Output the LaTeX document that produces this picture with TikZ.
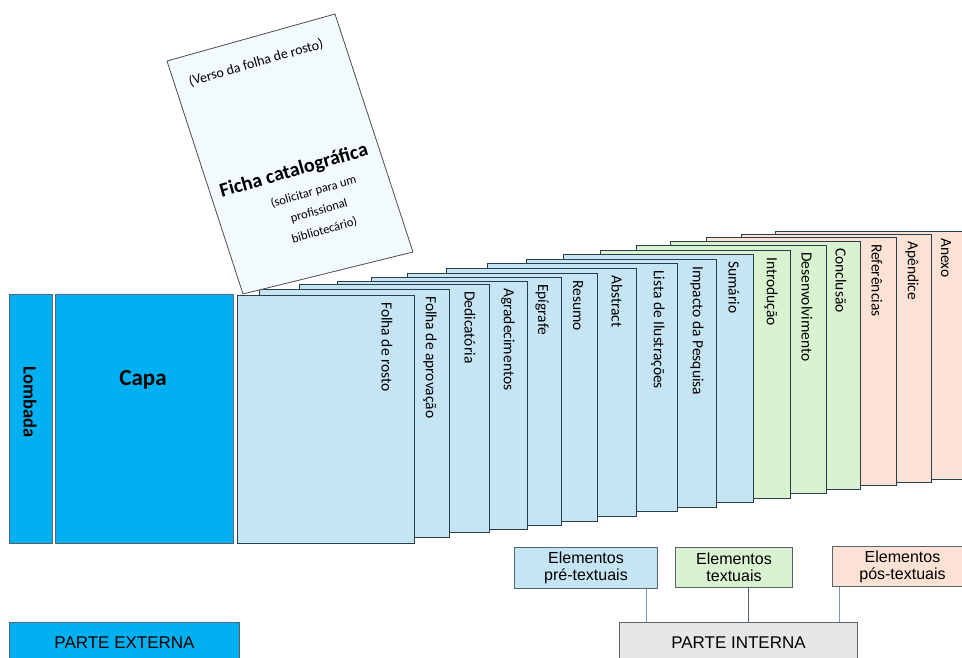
\documentclass[tikz,border=0pt]{standalone}
\usepackage{fontspec}
\setmainfont{Carlito}
\newfontfamily\arialfont{Liberation Sans}
\usepackage{tikz}
\definecolor{pretext}{HTML}{C5E4F4}
\definecolor{textcol}{HTML}{D9F2D0}
\definecolor{postext}{HTML}{FCE2D5}
\definecolor{capablue}{HTML}{00B0F0}
\definecolor{edgecol}{HTML}{2A3D4A}
\definecolor{fichabg}{HTML}{F3FAFE}
\definecolor{linkcol}{HTML}{7C9AAD}
\definecolor{internabg}{HTML}{E7E7E7}
\tikzstyle{folha}=[draw=edgecol, line width=1pt, minimum width=190pt, minimum height=248pt, anchor=north east, inner sep=0pt]
\tikzstyle{rotulo}=[rotate=-90, anchor=west, inner sep=0pt, text=black, font=\fontsize{15.5}{18}\selectfont]
\tikzstyle{externa}=[draw=edgecol!80, line width=1pt, fill=capablue, anchor=north west, inner sep=0pt]
\tikzstyle{caixa}=[draw=edgecol!80, line width=1pt, anchor=north west, align=center, inner sep=0pt, font=\arialfont\fontsize{16}{17}\selectfont]
\tikzstyle{ligacao}=[draw=linkcol, line width=1pt]

\begin{document}
\begin{tikzpicture}[x=1pt,y=-1pt]
        \useasboundingbox (0,0) rectangle (962,658);
        \clip (0,0) rectangle (962,658);
        % parte externa
        \node[externa, minimum width=43pt, minimum height=249pt] (lombada) at (9,294) {};
        \node[externa, minimum width=178pt, minimum height=249pt] (capa) at (55,294) {};
        \node[rotate=-90, font=\bfseries\fontsize{18.5}{20}\selectfont] (lombadatxt) at (30,402) {Lombada};
        \node[font=\bfseries\fontsize{23}{26}\selectfont] (capatxt) at (143,380) {Capa};
        % folhas da parte interna, de tras para a frente
        \foreach \nome/\dir/\topo/\cor [count=\i] in {Anexo/966/231/postext, Apêndice/932/234/postext,
            Referências/897/237/postext, Conclusão/861/241/textcol, Desenvolvimento/827/245/textcol,
            Introdução/791/250/textcol, Sumário/754/254/pretext, Impacto da Pesquisa/717/259/pretext,
            Lista de Ilustrações/678/263/pretext, Abstract/637/268/pretext, Resumo/598/273/pretext,
            Epígrafe/562/277/pretext, Agradecimentos/528/281/pretext, Dedicatória/490/284/pretext,
            Folha de aprovação/450/289/pretext} {
            \node[folha, fill=\cor] (pg\i) at (\dir,\topo) {};
            \node[rotulo] (rot\i) at ([xshift=-20pt, yshift=-7pt]pg\i.north east) {\nome};
        }
        \node[folha, fill=pretext, minimum width=177pt] (rosto) at (415,295) {};
        \node[rotulo] (rostotxt) at ([xshift=-28pt, yshift=-7pt]rosto.north east) {Folha de rosto};
        % verso da folha de rosto
        \coordinate (f1) at (167,61);
        \coordinate (f2) at (335,14);
        \coordinate (f3) at (413,252);
        \coordinate (f4) at (243,294);
        \draw[fill=fichabg, draw=black!70, line width=0.8pt] (f1) -- (f2) -- (f3) -- (f4) -- cycle;
        \node[rotate=16, inner sep=0pt, font=\fontsize{14}{16}\selectfont] (verso) at (256,63) {(Verso da folha de rosto)};
        \node[rotate=16, inner sep=0pt, font=\bfseries\fontsize{20}{22}\selectfont] (ficha) at (294,171) {Ficha catalográfica};
        \node[rotate=16, inner sep=0pt, align=center, font=\fontsize{12.5}{20}\selectfont] (solicitar) at (319,211)
            {(solicitar para um\\profissional\\bibliotecário)};
        % legendas
        \node[caixa, fill=pretext, minimum width=143pt, minimum height=41pt] (pre) at (514,547) {Elementos\\pré-textuais};
        \node[caixa, fill=textcol, minimum width=117pt, minimum height=40pt] (txt) at (675,547) {Elementos\\textuais};
        \node[caixa, fill=postext, minimum width=140pt, minimum height=40pt] (pos) at (832,546) {Elementos\\pós-textuais};
        \node[caixa, fill=internabg, minimum width=238pt, minimum height=40pt, font=\arialfont\fontsize{17}{19}\selectfont] (interna) at (619,622) {PARTE INTERNA};
        \node[caixa, fill=capablue, minimum width=230pt, minimum height=40pt, font=\arialfont\fontsize{17}{19}\selectfont] (parteext) at (9,622) {PARTE EXTERNA};
        \draw[ligacao] ([xshift=-12pt]pre.south east) -- ([xshift=-12pt]pre.south east |- interna.north);
        \draw[ligacao, draw=edgecol!80] ([xshift=14pt]txt.south) -- ([xshift=14pt]txt.south |- interna.north);
        \draw[ligacao] ([xshift=7pt]pos.south west) -- ([xshift=7pt]pos.south west |- interna.north);
\end{tikzpicture}
\end{document}
